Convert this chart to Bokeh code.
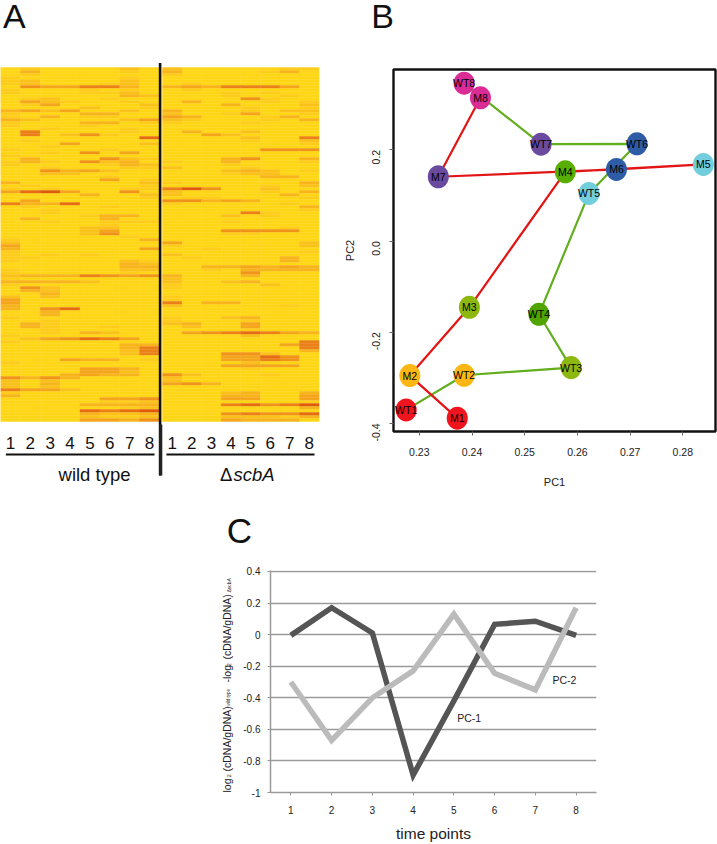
from math import pi
from bokeh.plotting import figure
from bokeh.layouts import column, row
from bokeh.models import Range1d, FixedTicker, Label, ColumnDataSource
from bokeh.core.properties import value
from bokeh.embed import file_html
from bokeh.resources import INLINE

FONT = "Liberation Sans"

# ---- Panel A: heat map, one string per gene, one digit per time point (0 pale .. 8 strong)
wild_type_rows = [
"01000020","03000010","01000000","10000010","12000020","12000120","05446630","10001010","10001120","00000032",
"01200100","04210010","01400002","00002001","34240020","10003300","10301100","32000024","10003301","10001000",
"00100010","06000010","06025100","00000007","01000000","00040002","00100000","10000100","00105040","10000000",
"03000521","13105230","10000132","00100011","00534200","00220000","00000100","00000401","30000002","01000001",
"10100011","47840050","00003002","00000001","04000000","63370000","01000100","00100000","00100000","00001330",
"03000300","00100111","00000100","00002200","00002400","00002500","00000010","10000003","20000000","40000000",
"30000004","10000000","10101000","11000000","10000021","00000032","00000033","10000022","10000010","23336545",
"10000000","33332000","10000000","05200000","03200000","00300000","20200000","40000000","40000000","30000000",
"30570000","00300000","00300000","10000000","00100000","03100000","03100100","00100000","00103200","10000000",
"02457640","10000000","00000033","00000036","00000026","00000026","00000000","00043301","10000000","00000000",
"00004430","00004420","00034330","53530000","20200000","20300000","20200000","64420000","10000000","30000000",
"00000445","00000112","00003333","00000012","00007678","00003223","00002112","00004435",
]
scba_rows = [
"20000011","30000130","10000000","00000000","00000000","01000000","34366640","01000000","00010100","00010010",
"00005100","03000101","00030002","00001001","30001022","20014001","43000130","21000103","10001000","00000000",
"00000000","03002000","00420000","00002006","00001002","00000001","00000000","00000555","00000000","00000000",
"00035003","10030001","00010000","20001000","00023201","00012200","00000330","00000000","10000003","00000102",
"68500200","20000103","20000030","01100001","55343000","10000010","00000003","00000001","00006100","00020100",
"00000000","00010000","00000000","00000010","00055550","00011000","00000000","00000000","40000002","10000002",
"00100000","00000001","20000000","01000030","00000030","00000000","00334343","00103333","00005000","30003000",
"20000000","20023000","10000200","10000000","00000000","00000000","10000000","10000000","60330000","20000010",
"00000000","00000000","00000000","10023000","10001000","23004000","02004000","00001000","04567643","00002000",
"00000000","00000006","00000046","00000006","00000003","00055200","00044750","00044650","00002000","00044440",
"00001000","00000000","52000100","20000000","20000000","45300000","00000000","00000000","00023003","00033004",
"00044004","00000001","00067568","00000003","00000000","00056557","00022213","00043330",
]
heat_palette = ["#FFD616","#FECC1A","#FBC11B","#F8B41C","#F5A51C","#F0931A","#EB8018","#E56C14","#DE5A10"]
time_labels = ["1","2","3","4","5","6","7","8"]

# ---- Panel B: principal components
wt_names = ["WT1","WT2","WT3","WT4","WT5","WT6","WT7","WT8"]
wt_pc1 = [0.2275,0.2385,0.2588,0.2527,0.2622,0.2713,0.2531,0.2385]
wt_pc2 = [-0.3701,-0.2942,-0.2774,-0.1606,0.1044,0.2131,0.2124,0.346]
m_names = ["M1","M2","M3","M4","M5","M6","M7","M8"]
m_pc1 = [0.2372,0.2282,0.2395,0.2577,0.2839,0.2674,0.2336,0.2416]
m_pc2 = [-0.3883,-0.2949,-0.1453,0.1518,0.1679,0.1569,0.1409,0.314]
wt_colors = ["#F0141E","#FDB714","#8DB80F","#4FA400","#72CDDC","#2F5CA6","#694A9E","#DB2C96"]
m_colors = ["#F0141E","#FDB714","#8DB80F","#58AE00","#72CDDC","#2F5CA6","#694A9E","#DB2C96"]
b_x_ticks = [0.23,0.24,0.25,0.26,0.27,0.28]
b_y_ticks = [-0.4,-0.2,0.0,0.2]

# ---- Panel C: time courses
time_points = [1,2,3,4,5,6,7,8]
pc_1 = [-0.005,0.17,0.01,-0.89,-0.42,0.065,0.085,-0.005]
pc_2 = [-0.30,-0.67,-0.40,-0.23,0.13,-0.245,-0.35,0.17]
c_y_ticks = [-1,-0.8,-0.6,-0.4,-0.2,0,0.2,0.4]
c_y_labels = ["-1","-0.8","-0.6","-0.4","-0.2","0","0.2","0.4"]
c_y_title = ["log","2","(cDNA/gDNA)","wild type","-log","2","(cDNA/gDNA)","\u0394scbA"]


def text_strip(width, height, x0, y0):
    """A blank figure used only to carry text, its ranges in page pixels."""
    f = figure(width=width, height=height, output_backend="svg", toolbar_location=None,
               x_range=Range1d(x0, x0+width), y_range=Range1d(y0+height, y0), min_border=0,
               x_axis_type=None, y_axis_type=None, outline_line_color=None)
    f.frame_align = False
    f.grid.visible = False
    return f


# ======== A ========
COL_A = 19.875
fa = figure(width=340, height=500, output_backend="svg", toolbar_location=None,
            x_range=Range1d(0, 340/COL_A), y_range=Range1d(144.33, -22.33),
            min_border=0, x_axis_type=None, y_axis_type=None, outline_line_color=None)
fa.frame_align = False
fa.grid.visible = False
RIGHT_START, RIGHT_W = 8.15, 0.985
xs, ys, ws, cols = [], [], [], []
for r,(a,b) in enumerate(zip(wild_type_rows, scba_rows)):
    for c,d in enumerate(a):
        xs.append(c+0.5); ys.append(r+0.5); ws.append(1.0); cols.append(heat_palette[int(d)])
    for c,d in enumerate(b):
        xs.append(RIGHT_START+(c+0.5)*RIGHT_W); ys.append(r+0.5); ws.append(RIGHT_W); cols.append(heat_palette[int(d)])
fa.rect(x="x", y="y", width="w", height=1, fill_color="c", line_color="c", line_width=0.4,
        source=ColumnDataSource(dict(x=xs,y=ys,w=ws,c=cols)))
n_rows = len(wild_type_rows)
lab_y = n_rows+7
tx = [i+0.5 for i in range(8)]+[RIGHT_START+(i+0.5)*RIGHT_W for i in range(8)]
fa.text(x=tx, y=[lab_y]*16, text=time_labels+time_labels, text_font=value(FONT), text_font_size="17px",
        text_align="center", text_baseline="middle", text_color="#111111")
fa.line([0.27,7.75],[n_rows+11]*2, line_color="#111111", line_width=2.2)
fa.line([8.35,15.8],[n_rows+11]*2, line_color="#111111", line_width=2.2)
fa.line([8.03,8.03],[-1.5,n_rows+18], line_color="#111111", line_width=2.6)
fa.line([8.06,8.06],[n_rows+1,n_rows+18], line_color="#222222", line_width=3.2)
fa.text(x=[4.73], y=[n_rows+17.6], text=["wild type"], text_font=value(FONT), text_font_size="18.5px",
        text_align="center", text_baseline="middle", text_color="#111111")
fa.text(x=[11.05], y=[n_rows+17.6], text=["\u0394"], text_font=value(FONT), text_font_size="18.5px",
        text_align="left", text_baseline="middle", text_color="#111111")
fa.text(x=[11.72], y=[n_rows+17.6], text=["scbA"], text_font=value(FONT), text_font_size="18.5px",
        text_font_style="italic", text_align="left", text_baseline="middle", text_color="#111111")
fa.text(x=[0.7], y=[-17.1], text=["A"], text_font=value(FONT), text_font_size="34px",
        text_align="center", text_baseline="middle", text_color="#111111")

# ======== B ========
strip_b = text_strip(377, 40, 340, 0)
strip_b.text(x=[382], y=[15.7], text=["B"], text_font=value(FONT), text_font_size="34px",
             text_align="center", text_baseline="middle", text_color="#111111")

bx0, by1 = 0.2251, 0.376
fb = figure(width=377, height=460, output_backend="svg", toolbar_location=None,
            x_range=Range1d(bx0, 0.2862), y_range=Range1d(-0.4175, by1),
            min_border_left=53, min_border_right=2, min_border_top=29, min_border_bottom=69,
            outline_line_color="#111111", outline_line_width=2.4)
fb.frame_align = False
fb.grid.visible = False
fb.line(wt_pc1, wt_pc2, line_color="#62AE1E", line_width=2.2)
fb.line(m_pc1, m_pc2, line_color="#E21414", line_width=2.2)
fb.ellipse(x=wt_pc1, y=wt_pc2, width=21, height=23, width_units="screen", height_units="screen",
           fill_color=wt_colors, line_color=None)
fb.ellipse(x=m_pc1, y=m_pc2, width=21, height=23, width_units="screen", height_units="screen",
           fill_color=m_colors, line_color=None)
fb.text(x=wt_pc1, y=wt_pc2, text=wt_names, text_font=value(FONT), text_font_size="10.5px",
        text_align="center", text_baseline="middle", text_color="#000000")
fb.text(x=m_pc1, y=m_pc2, text=m_names, text_font=value(FONT), text_font_size="10.5px",
        text_align="center", text_baseline="middle", text_color="#000000")
for ax in (fb.xaxis[0], fb.yaxis[0]):
    ax.axis_line_color = None
    ax.major_tick_line_color = "#666666"
    ax.major_tick_line_width = 1
    ax.major_tick_in = 0
    ax.major_tick_out = 4
    ax.minor_tick_line_color = None
    ax.major_label_text_font = FONT
    ax.major_label_text_font_size = "10.5px"
    ax.major_label_text_color = "#222222"
    ax.axis_label_text_font = FONT
    ax.axis_label_text_font_size = "11px"
    ax.axis_label_text_font_style = "normal"
    ax.axis_label_text_color = "#222222"
fb.xaxis[0].ticker = FixedTicker(ticks=b_x_ticks)
fb.yaxis[0].ticker = FixedTicker(ticks=b_y_ticks)
fb.xaxis[0].major_label_overrides = {v: f"{v:.2f}" for v in b_x_ticks}
fb.yaxis[0].major_label_overrides = {v: f"{v:.1f}" for v in b_y_ticks}
fb.yaxis[0].major_label_orientation = pi/2
fb.xaxis[0].axis_label = "PC1"
fb.yaxis[0].axis_label = "PC2"
fb.xaxis[0].axis_label_standoff = 17
fb.yaxis[0].axis_label_standoff = 10
fb.xaxis[0].major_label_standoff = 12
fb.yaxis[0].major_label_standoff = 13

# ======== C ========
strip_c = text_strip(717, 50, 0, 510)
strip_c.margin = (10, 0, 0, 0)
strip_c.text(x=[239], y=[530], text=["C"], text_font=value(FONT), text_font_size="35px",
             text_align="center", text_baseline="middle", text_color="#111111")

title_c = text_strip(238, 284, 0, 560)
title_y = [792, 777, 771, 706, 682, 666, 659, 592]
title_x = [226, 228, 226, 228, 226, 228, 226, 228]
title_fs = ["10.5px", "6px", "10.5px", "4.5px", "10.5px", "6px", "10.5px", "5px"]
for t, xp, yp, fs in zip(c_y_title, title_x, title_y, title_fs):
    title_c.text(x=[xp], y=[yp], text=[t], angle=pi/2, text_font=value(FONT), text_font_size=fs,
                 text_align="left", text_baseline="middle", text_color="#222222")

SX = 40.7
SY = 157.9
fc = figure(width=382, height=284, output_backend="svg", toolbar_location=None,
            x_range=Range1d(0.5, 8.5), y_range=Range1d(-1, 0.406),
            min_border_left=32, min_border_right=24, min_border_top=10, min_border_bottom=52,
            outline_line_color=None)
fc.frame_align = False
fc.xgrid.visible = False
fc.ygrid.ticker = FixedTicker(ticks=c_y_ticks)
fc.ygrid.grid_line_color = "#9A9A9A"
fc.ygrid.grid_line_width = 1.5
fc.line(time_points, pc_1, line_color="#555555", line_width=5.5, line_join="miter")
fc.line(time_points, pc_2, line_color="#BBBBBB", line_width=5.5, line_join="miter")
for ax in (fc.xaxis[0], fc.yaxis[0]):
    ax.axis_line_color = "#9A9A9A"
    ax.axis_line_width = 1.5
    ax.major_tick_line_color = "#9A9A9A"
    ax.major_tick_in = 0
    ax.major_tick_out = 3
    ax.minor_tick_line_color = None
    ax.major_label_text_font = FONT
    ax.major_label_text_color = "#222222"
    ax.major_label_text_font_size = "10px"
fc.xaxis[0].ticker = FixedTicker(ticks=time_points)
fc.yaxis[0].ticker = FixedTicker(ticks=c_y_ticks)
fc.yaxis[0].major_label_overrides = {v: s for v, s in zip(c_y_ticks, c_y_labels)}
fc.yaxis[0].major_label_standoff = 7
fc.xaxis[0].major_label_standoff = 10
fc.xaxis[0].axis_label = "time points"
fc.xaxis[0].axis_label_text_font = FONT
fc.xaxis[0].axis_label_text_font_size = "15.5px"
fc.xaxis[0].axis_label_text_font_style = "normal"
fc.xaxis[0].axis_label_text_color = "#222222"
fc.xaxis[0].axis_label_standoff = 8

def cx(px):
    return 0.5+(px-270.5)/SX
def cy(py):
    return 0.4-(py-571)/SY

fc.add_layout(Label(x=cx(564), y=cy(680), text="PC-2", text_font=FONT, text_font_size="10.5px",
                    text_align="center", text_baseline="middle", text_color="#222222"))
fc.add_layout(Label(x=cx(469), y=cy(718), text="PC-1", text_font=FONT, text_font_size="10.5px",
                    text_align="center", text_baseline="middle", text_color="#222222"))

page = column(row(fa, column(strip_b, fb)), strip_c, row(title_c, fc))
open("out.html", "w").write(file_html(page, INLINE))
